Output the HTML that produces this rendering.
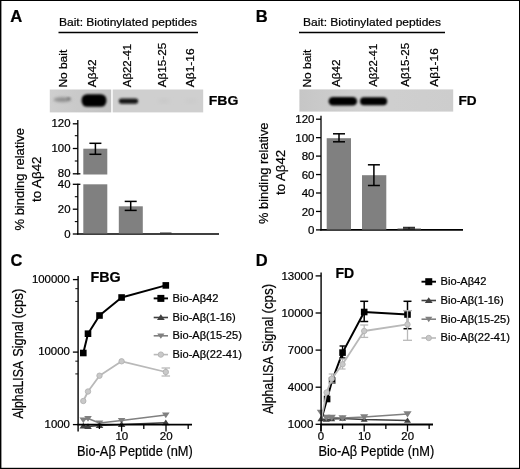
<!DOCTYPE html>
<html><head><meta charset="utf-8"><title>Figure</title>
<style>
html,body{margin:0;padding:0;background:#fff;}
svg{display:block;}
text{font-family:"Liberation Sans",sans-serif;fill:#000;stroke:#000;stroke-width:0.22px;}
.b{font-weight:bold;}
</style></head><body>
<svg width="520" height="469" viewBox="0 0 520 469">
<defs>
<filter id="bl1" x="-30%" y="-60%" width="160%" height="220%"><feGaussianBlur stdDeviation="1.2"/></filter>
<filter id="bl2" x="-30%" y="-60%" width="160%" height="220%"><feGaussianBlur stdDeviation="2"/></filter>
<filter id="bl4" x="-30%" y="-60%" width="160%" height="220%"><feGaussianBlur stdDeviation="1.0"/></filter>
<filter id="bl5" x="-30%" y="-100%" width="160%" height="300%"><feGaussianBlur stdDeviation="1.6"/></filter>
<filter id="bl3" x="-30%" y="-60%" width="160%" height="220%"><feGaussianBlur stdDeviation="0.8"/></filter>
<linearGradient id="gB" x1="0" x2="1" y1="0" y2="0"><stop offset="0" stop-color="#c6c6c6"/><stop offset="0.4" stop-color="#d0d0d0"/><stop offset="1" stop-color="#cdcdcd"/></linearGradient>
<linearGradient id="gA1" x1="0" x2="1" y1="0" y2="0"><stop offset="0" stop-color="#cfcfcf"/><stop offset="1" stop-color="#c2c2c2"/></linearGradient>
</defs>
<rect x="0" y="0" width="520" height="469" fill="#fff"/>
<rect x="0.5" y="0.5" width="519" height="468" fill="none" stroke="#000" stroke-width="1"/>
<rect x="0" y="0" width="1.4" height="469" fill="#000"/>
<rect x="0" y="467.8" width="520" height="1.2" fill="#000"/>

<text x="10.3" y="22" font-size="16.5" class="b" textLength="12" lengthAdjust="spacingAndGlyphs">A</text>
<text x="255.7" y="22" font-size="16.5" class="b">B</text>
<text x="10.5" y="265.5" font-size="16.5" class="b">C</text>
<text x="255.7" y="266" font-size="16.5" class="b">D</text>
<text x="59" y="26" font-size="11.6" textLength="138" lengthAdjust="spacingAndGlyphs">Bait: Biotinylated peptides</text>
<line x1="58.50" y1="32.50" x2="198.00" y2="32.50" stroke="#000" stroke-width="1.6" stroke-linecap="butt"/>
<rect x="49.80" y="89.50" width="61.40" height="22.90" fill="url(#gA1)"/>
<rect x="112.70" y="89.50" width="90.50" height="22.90" fill="#cfcfcf"/>
<ellipse cx="62.5" cy="99.6" rx="9" ry="2.3" fill="#8e8e8e" filter="url(#bl5)"/><ellipse cx="68.6" cy="98.6" rx="1.8" ry="1.1" fill="#707070" filter="url(#bl3)"/>
<rect x="81.6" y="94.2" width="24.8" height="12.6" rx="5.5" ry="5.5" fill="#000" filter="url(#bl4)"/>
<rect x="118.8" y="98.4" width="19.4" height="5.4" rx="2.7" ry="2.7" fill="#161616" filter="url(#bl4)"/>
<ellipse cx="164" cy="101" rx="6" ry="1.5" fill="#c4c4c4" filter="url(#bl2)"/>
<ellipse cx="191" cy="101" rx="6" ry="1.5" fill="#c8c8c8" filter="url(#bl2)"/>
<text x="67.5" y="87.6" font-size="11.6" textLength="37.8" lengthAdjust="spacingAndGlyphs" transform="rotate(-90 67.5 87.6)">No bait</text>
<text x="96.5" y="87.3" font-size="11.6" textLength="28" lengthAdjust="spacingAndGlyphs" transform="rotate(-90 96.5 87.3)">Aβ42</text>
<text x="131" y="87.2" font-size="11.6" textLength="43.3" lengthAdjust="spacingAndGlyphs" transform="rotate(-90 131 87.2)">Aβ22-41</text>
<text x="165.6" y="87.2" font-size="11.6" textLength="44.5" lengthAdjust="spacingAndGlyphs" transform="rotate(-90 165.6 87.2)">Aβ15-25</text>
<text x="193.8" y="87.2" font-size="11.6" textLength="38.8" lengthAdjust="spacingAndGlyphs" transform="rotate(-90 193.8 87.2)">Aβ1-16</text>
<text x="208.8" y="104.6" font-size="13.6" class="b" textLength="29.6" lengthAdjust="spacingAndGlyphs">FBG</text>
<line x1="77.80" y1="119.90" x2="77.80" y2="174.40" stroke="#000" stroke-width="1.3" stroke-linecap="butt"/>
<line x1="77.80" y1="183.70" x2="77.80" y2="234.60" stroke="#000" stroke-width="1.3" stroke-linecap="butt"/>
<line x1="77.15" y1="234.00" x2="219.00" y2="234.00" stroke="#000" stroke-width="1.7" stroke-linecap="butt"/>
<line x1="72.80" y1="123.80" x2="77.80" y2="123.80" stroke="#000" stroke-width="1.3" stroke-linecap="butt"/>
<text x="70.5" y="127.3" font-size="11.4" text-anchor="end">120</text>
<line x1="72.80" y1="148.50" x2="77.80" y2="148.50" stroke="#000" stroke-width="1.3" stroke-linecap="butt"/>
<text x="70.5" y="152.0" font-size="11.4" text-anchor="end">100</text>
<line x1="72.80" y1="173.80" x2="80.40" y2="173.80" stroke="#000" stroke-width="1.3" stroke-linecap="butt"/>
<text x="70.5" y="177.3" font-size="11.4" text-anchor="end">80</text>
<line x1="74.80" y1="135.70" x2="77.80" y2="135.70" stroke="#000" stroke-width="1.1" stroke-linecap="butt"/>
<line x1="74.80" y1="161.00" x2="77.80" y2="161.00" stroke="#000" stroke-width="1.1" stroke-linecap="butt"/>
<line x1="72.80" y1="184.30" x2="80.40" y2="184.30" stroke="#000" stroke-width="1.3" stroke-linecap="butt"/>
<text x="70.5" y="187.8" font-size="11.4" text-anchor="end">40</text>
<line x1="72.80" y1="209.20" x2="77.80" y2="209.20" stroke="#000" stroke-width="1.3" stroke-linecap="butt"/>
<text x="70.5" y="212.7" font-size="11.4" text-anchor="end">20</text>
<line x1="72.80" y1="234.00" x2="77.80" y2="234.00" stroke="#000" stroke-width="1.3" stroke-linecap="butt"/>
<text x="70.5" y="237.5" font-size="11.4" text-anchor="end">0</text>
<line x1="74.80" y1="196.70" x2="77.80" y2="196.70" stroke="#000" stroke-width="1.1" stroke-linecap="butt"/>
<line x1="74.80" y1="221.60" x2="77.80" y2="221.60" stroke="#000" stroke-width="1.1" stroke-linecap="butt"/>
<rect x="83.30" y="148.70" width="24.00" height="25.80" fill="#808080"/>
<rect x="83.30" y="184.30" width="24.00" height="49.10" fill="#808080"/>
<line x1="95.40" y1="143.30" x2="95.40" y2="154.30" stroke="#000" stroke-width="1.5" stroke-linecap="butt"/>
<line x1="89.40" y1="143.30" x2="101.40" y2="143.30" stroke="#000" stroke-width="1.5" stroke-linecap="butt"/>
<line x1="89.40" y1="154.30" x2="101.40" y2="154.30" stroke="#000" stroke-width="1.5" stroke-linecap="butt"/>
<rect x="118.80" y="206.30" width="24.00" height="27.10" fill="#808080"/>
<line x1="130.70" y1="201.40" x2="130.70" y2="210.40" stroke="#000" stroke-width="1.5" stroke-linecap="butt"/>
<line x1="124.70" y1="201.40" x2="136.70" y2="201.40" stroke="#000" stroke-width="1.5" stroke-linecap="butt"/>
<line x1="124.70" y1="210.40" x2="136.70" y2="210.40" stroke="#000" stroke-width="1.5" stroke-linecap="butt"/>
<rect x="160.00" y="232.50" width="11.50" height="1.10" fill="#303030"/>
<text x="23.9" y="230.5" font-size="13.6" textLength="102.5" lengthAdjust="spacingAndGlyphs" transform="rotate(-90 23.9 230.5)">% binding relative</text>
<text x="40.7" y="202" font-size="13.6" textLength="45.5" lengthAdjust="spacingAndGlyphs" transform="rotate(-90 40.7 202)">to Aβ42</text>
<text x="303" y="26" font-size="11.6" textLength="138" lengthAdjust="spacingAndGlyphs">Bait: Biotinylated peptides</text>
<line x1="299.00" y1="32.50" x2="445.00" y2="32.50" stroke="#000" stroke-width="1.6" stroke-linecap="butt"/>
<rect x="299.40" y="89.40" width="153.80" height="22.20" fill="url(#gB)"/>
<rect x="328.6" y="96.9" width="28.5" height="8.6" rx="4.3" ry="4.3" fill="#000" filter="url(#bl3)"/>
<rect x="360" y="97.3" width="27.2" height="7.9" rx="3.9" ry="3.9" fill="#000" filter="url(#bl3)"/>
<text x="311.1" y="87.6" font-size="11.6" textLength="38" lengthAdjust="spacingAndGlyphs" transform="rotate(-90 311.1 87.6)">No bait</text>
<text x="340.3" y="87" font-size="11.6" textLength="27.6" lengthAdjust="spacingAndGlyphs" transform="rotate(-90 340.3 87)">Aβ42</text>
<text x="377.3" y="86.8" font-size="11.6" textLength="43" lengthAdjust="spacingAndGlyphs" transform="rotate(-90 377.3 86.8)">Aβ22-41</text>
<text x="408.6" y="86.8" font-size="11.6" transform="rotate(-90 408.6 86.8)">Aβ15-25</text>
<text x="437.8" y="86.8" font-size="11.6" textLength="38.6" lengthAdjust="spacingAndGlyphs" transform="rotate(-90 437.8 86.8)">Aβ1-16</text>
<text x="458.5" y="104.6" font-size="13.6" class="b">FD</text>
<line x1="321.00" y1="115.80" x2="321.00" y2="230.60" stroke="#000" stroke-width="1.3" stroke-linecap="butt"/>
<line x1="320.35" y1="229.90" x2="463.00" y2="229.90" stroke="#000" stroke-width="1.7" stroke-linecap="butt"/>
<line x1="316.00" y1="229.90" x2="321.00" y2="229.90" stroke="#000" stroke-width="1.3" stroke-linecap="butt"/>
<text x="314.5" y="234.0" font-size="11.5" text-anchor="end">0</text>
<line x1="316.00" y1="211.45" x2="321.00" y2="211.45" stroke="#000" stroke-width="1.3" stroke-linecap="butt"/>
<text x="314.5" y="215.55" font-size="11.5" text-anchor="end">20</text>
<line x1="316.00" y1="193.00" x2="321.00" y2="193.00" stroke="#000" stroke-width="1.3" stroke-linecap="butt"/>
<text x="314.5" y="197.1" font-size="11.5" text-anchor="end">40</text>
<line x1="316.00" y1="174.55" x2="321.00" y2="174.55" stroke="#000" stroke-width="1.3" stroke-linecap="butt"/>
<text x="314.5" y="178.65" font-size="11.5" text-anchor="end">60</text>
<line x1="316.00" y1="156.10" x2="321.00" y2="156.10" stroke="#000" stroke-width="1.3" stroke-linecap="butt"/>
<text x="314.5" y="160.20000000000002" font-size="11.5" text-anchor="end">80</text>
<line x1="316.00" y1="137.65" x2="321.00" y2="137.65" stroke="#000" stroke-width="1.3" stroke-linecap="butt"/>
<text x="314.5" y="141.75" font-size="11.5" text-anchor="end">100</text>
<line x1="316.00" y1="119.20" x2="321.00" y2="119.20" stroke="#000" stroke-width="1.3" stroke-linecap="butt"/>
<text x="314.5" y="123.30000000000001" font-size="11.5" text-anchor="end">120</text>
<rect x="326.70" y="138.20" width="24.30" height="91.40" fill="#808080"/>
<line x1="339.00" y1="133.80" x2="339.00" y2="141.80" stroke="#000" stroke-width="1.5" stroke-linecap="butt"/>
<line x1="333.00" y1="133.80" x2="345.00" y2="133.80" stroke="#000" stroke-width="1.5" stroke-linecap="butt"/>
<line x1="333.00" y1="141.80" x2="345.00" y2="141.80" stroke="#000" stroke-width="1.5" stroke-linecap="butt"/>
<rect x="362.00" y="175.20" width="24.30" height="54.40" fill="#808080"/>
<line x1="373.90" y1="164.80" x2="373.90" y2="185.50" stroke="#000" stroke-width="1.5" stroke-linecap="butt"/>
<line x1="367.90" y1="164.80" x2="379.90" y2="164.80" stroke="#000" stroke-width="1.5" stroke-linecap="butt"/>
<line x1="367.90" y1="185.50" x2="379.90" y2="185.50" stroke="#000" stroke-width="1.5" stroke-linecap="butt"/>
<rect x="397.50" y="228.40" width="23.50" height="1.00" fill="#808080"/>
<line x1="409.00" y1="227.30" x2="409.00" y2="228.90" stroke="#000" stroke-width="1.0" stroke-linecap="butt"/>
<line x1="403.00" y1="227.30" x2="415.00" y2="227.30" stroke="#000" stroke-width="1.0" stroke-linecap="butt"/>
<line x1="403.00" y1="228.90" x2="415.00" y2="228.90" stroke="#000" stroke-width="1.0" stroke-linecap="butt"/>
<text x="267.7" y="224" font-size="13.6" textLength="101.5" lengthAdjust="spacingAndGlyphs" transform="rotate(-90 267.7 224)">% binding relative</text>
<text x="284.7" y="195" font-size="13.6" textLength="45.2" lengthAdjust="spacingAndGlyphs" transform="rotate(-90 284.7 195)">to Aβ42</text>
<polyline fill="none" stroke="#b9b9b9" stroke-width="1.8" stroke-linejoin="round" points="83.30,401.00 88.00,391.50 99.50,375.70 121.60,361.30 165.80,372.00"/>
<line x1="165.80" y1="368.00" x2="165.80" y2="376.00" stroke="#b9b9b9" stroke-width="1.3" stroke-linecap="butt"/>
<line x1="161.55" y1="368.00" x2="170.05" y2="368.00" stroke="#b9b9b9" stroke-width="1.3" stroke-linecap="butt"/>
<line x1="161.55" y1="376.00" x2="170.05" y2="376.00" stroke="#b9b9b9" stroke-width="1.3" stroke-linecap="butt"/>
<circle cx="83.30" cy="401.00" r="2.7" fill="#c9c9c9" stroke="#b2b2b2" stroke-width="0.9"/>
<circle cx="88.00" cy="391.50" r="2.7" fill="#c9c9c9" stroke="#b2b2b2" stroke-width="0.9"/>
<circle cx="99.50" cy="375.70" r="2.7" fill="#c9c9c9" stroke="#b2b2b2" stroke-width="0.9"/>
<circle cx="121.60" cy="361.30" r="2.7" fill="#c9c9c9" stroke="#b2b2b2" stroke-width="0.9"/>
<circle cx="165.80" cy="372.00" r="2.7" fill="#c9c9c9" stroke="#b2b2b2" stroke-width="0.9"/>
<polyline fill="none" stroke="#808080" stroke-width="1.5" stroke-linejoin="round" points="83.30,420.00 88.00,418.50 99.50,423.00 121.60,420.40 165.80,415.00"/>
<polygon points="83.30,423.23 79.50,417.53 87.10,417.53" fill="#808080"/>
<polygon points="88.00,421.73 84.20,416.03 91.80,416.03" fill="#808080"/>
<polygon points="99.50,426.23 95.70,420.53 103.30,420.53" fill="#808080"/>
<polygon points="121.60,423.63 117.80,417.93 125.40,417.93" fill="#808080"/>
<polygon points="165.80,418.23 162.00,412.53 169.60,412.53" fill="#808080"/>
<polyline fill="none" stroke="#404040" stroke-width="1.5" stroke-linejoin="round" points="83.30,426.00 88.00,426.50 99.50,425.50 121.60,424.50 165.80,422.70"/>
<polygon points="83.30,422.77 79.50,428.47 87.10,428.47" fill="#404040"/>
<polygon points="88.00,423.27 84.20,428.97 91.80,428.97" fill="#404040"/>
<polygon points="99.50,422.27 95.70,427.97 103.30,427.97" fill="#404040"/>
<polygon points="121.60,421.27 117.80,426.97 125.40,426.97" fill="#404040"/>
<polygon points="165.80,419.47 162.00,425.17 169.60,425.17" fill="#404040"/>
<polyline fill="none" stroke="#000" stroke-width="2" stroke-linejoin="round" points="83.30,353.00 88.00,333.70 99.50,315.50 121.60,297.50 165.80,285.40"/>
<rect x="80.00" y="349.70" width="6.60" height="6.60" fill="#000"/>
<rect x="84.70" y="330.40" width="6.60" height="6.60" fill="#000"/>
<rect x="96.20" y="312.20" width="6.60" height="6.60" fill="#000"/>
<rect x="118.30" y="294.20" width="6.60" height="6.60" fill="#000"/>
<rect x="162.50" y="282.10" width="6.60" height="6.60" fill="#000"/>
<line x1="78.10" y1="276.00" x2="78.10" y2="431.50" stroke="#000" stroke-width="1.4" stroke-linecap="butt"/>
<line x1="77.40" y1="424.60" x2="192.00" y2="424.60" stroke="#000" stroke-width="1.8" stroke-linecap="butt"/>
<line x1="72.90" y1="279.60" x2="78.10" y2="279.60" stroke="#000" stroke-width="1.3" stroke-linecap="butt"/>
<text x="69.9" y="282.90000000000003" font-size="11.4" text-anchor="end">100000</text>
<line x1="72.90" y1="352.10" x2="78.10" y2="352.10" stroke="#000" stroke-width="1.3" stroke-linecap="butt"/>
<text x="69.9" y="355.40000000000003" font-size="11.4" text-anchor="end">10000</text>
<line x1="72.90" y1="424.60" x2="78.10" y2="424.60" stroke="#000" stroke-width="1.3" stroke-linecap="butt"/>
<text x="69.9" y="427.90000000000003" font-size="11.4" text-anchor="end">1000</text>
<line x1="75.30" y1="288.66" x2="78.10" y2="288.66" stroke="#111" stroke-width="1.0" stroke-linecap="butt"/>
<line x1="75.30" y1="301.42" x2="78.10" y2="301.42" stroke="#111" stroke-width="1.0" stroke-linecap="butt"/>
<line x1="75.30" y1="361.16" x2="78.10" y2="361.16" stroke="#111" stroke-width="1.0" stroke-linecap="butt"/>
<line x1="75.30" y1="373.92" x2="78.10" y2="373.92" stroke="#111" stroke-width="1.0" stroke-linecap="butt"/>
<line x1="99.40" y1="424.60" x2="99.40" y2="429.00" stroke="#000" stroke-width="1.3" stroke-linecap="butt"/>
<line x1="121.60" y1="424.60" x2="121.60" y2="431.50" stroke="#000" stroke-width="1.3" stroke-linecap="butt"/>
<line x1="143.80" y1="424.60" x2="143.80" y2="429.00" stroke="#000" stroke-width="1.3" stroke-linecap="butt"/>
<line x1="166.00" y1="424.60" x2="166.00" y2="431.50" stroke="#000" stroke-width="1.3" stroke-linecap="butt"/>
<line x1="188.20" y1="424.60" x2="188.20" y2="429.00" stroke="#000" stroke-width="1.3" stroke-linecap="butt"/>
<text x="121.8" y="440.2" font-size="11.5" text-anchor="middle">10</text>
<text x="166.2" y="440.2" font-size="11.5" text-anchor="middle">20</text>
<text x="77" y="456" font-size="15.3" textLength="115.8" lengthAdjust="spacingAndGlyphs">Bio-Aβ Peptide (nM)</text>
<text x="22.8" y="418.8" font-size="13.9" textLength="57.8" lengthAdjust="spacingAndGlyphs" transform="rotate(-90 22.8 418.8)">AlphaLISA</text>
<text x="22.8" y="356.7" font-size="13.9" textLength="35.4" lengthAdjust="spacingAndGlyphs" transform="rotate(-90 22.8 356.7)">Signal</text>
<text x="22.8" y="318.20000000000005" font-size="13.9" textLength="29.6" lengthAdjust="spacingAndGlyphs" transform="rotate(-90 22.8 318.20000000000005)">(cps)</text>
<text x="90.5" y="282" font-size="14.3" class="b">FBG</text>
<line x1="153.70" y1="298.40" x2="168.00" y2="298.40" stroke="#000" stroke-width="1.9" stroke-linecap="butt"/>
<rect x="157.35" y="294.90" width="7.00" height="7.00" fill="#000"/>
<text x="172.6" y="301.79999999999995" font-size="11.1">Bio-Aβ42</text>
<line x1="153.70" y1="317.50" x2="168.00" y2="317.50" stroke="#404040" stroke-width="1.6" stroke-linecap="butt"/>
<polygon points="160.85,314.19 156.95,320.04 164.75,320.04" fill="#404040"/>
<text x="172.6" y="320.9" font-size="11.1">Bio-Aβ(1-16)</text>
<line x1="153.70" y1="335.80" x2="168.00" y2="335.80" stroke="#808080" stroke-width="1.6" stroke-linecap="butt"/>
<polygon points="160.85,338.86 157.25,333.46 164.45,333.46" fill="#808080"/>
<text x="172.6" y="339.2" font-size="11.1">Bio-Aβ(15-25)</text>
<line x1="153.70" y1="354.60" x2="168.00" y2="354.60" stroke="#b9b9b9" stroke-width="1.6" stroke-linecap="butt"/>
<circle cx="160.85" cy="354.60" r="2.7" fill="#c9c9c9" stroke="#b2b2b2" stroke-width="0.9"/>
<text x="172.6" y="358.0" font-size="11.1">Bio-Aβ(22-41)</text>
<polyline fill="none" stroke="#404040" stroke-width="1.5" stroke-linejoin="round" points="320.90,419.00 326.31,419.50 331.72,419.00 342.55,418.50 364.20,419.50 407.50,420.50"/>
<polygon points="320.90,416.02 317.40,421.27 324.40,421.27" fill="#404040"/>
<polygon points="326.31,416.52 322.81,421.77 329.81,421.77" fill="#404040"/>
<polygon points="331.72,416.02 328.22,421.27 335.22,421.27" fill="#404040"/>
<polygon points="342.55,415.52 339.05,420.77 346.05,420.77" fill="#404040"/>
<polygon points="364.20,416.52 360.70,421.77 367.70,421.77" fill="#404040"/>
<polygon points="407.50,417.52 404.00,422.77 411.00,422.77" fill="#404040"/>
<polyline fill="none" stroke="#808080" stroke-width="1.6" stroke-linejoin="round" points="320.90,412.30 326.31,417.50 331.72,417.50 342.55,418.00 364.20,417.00 407.50,414.00"/>
<polygon points="320.90,415.79 316.80,409.63 325.00,409.63" fill="#808080"/>
<polygon points="326.31,420.99 322.21,414.83 330.41,414.83" fill="#808080"/>
<polygon points="331.72,420.99 327.62,414.83 335.82,414.83" fill="#808080"/>
<polygon points="342.55,421.49 338.45,415.33 346.65,415.33" fill="#808080"/>
<polygon points="364.20,420.49 360.10,414.33 368.30,414.33" fill="#808080"/>
<polygon points="407.50,417.49 403.40,411.33 411.60,411.33" fill="#808080"/>
<polyline fill="none" stroke="#000" stroke-width="2" stroke-linejoin="round" points="321.10,420.30 327.10,399.00 332.12,380.50 342.55,352.60 364.20,312.00 407.50,314.50"/>
<line x1="342.55" y1="346.00" x2="342.55" y2="358.00" stroke="#000" stroke-width="1.4" stroke-linecap="butt"/>
<line x1="339.55" y1="346.00" x2="345.55" y2="346.00" stroke="#000" stroke-width="1.4" stroke-linecap="butt"/>
<line x1="339.55" y1="358.00" x2="345.55" y2="358.00" stroke="#000" stroke-width="1.4" stroke-linecap="butt"/>
<line x1="364.20" y1="301.30" x2="364.20" y2="321.50" stroke="#000" stroke-width="1.5" stroke-linecap="butt"/>
<line x1="360.20" y1="301.30" x2="368.20" y2="301.30" stroke="#000" stroke-width="1.5" stroke-linecap="butt"/>
<line x1="360.20" y1="321.50" x2="368.20" y2="321.50" stroke="#000" stroke-width="1.5" stroke-linecap="butt"/>
<line x1="407.50" y1="301.30" x2="407.50" y2="328.70" stroke="#000" stroke-width="1.5" stroke-linecap="butt"/>
<line x1="403.50" y1="301.30" x2="411.50" y2="301.30" stroke="#000" stroke-width="1.5" stroke-linecap="butt"/>
<line x1="403.50" y1="328.70" x2="411.50" y2="328.70" stroke="#000" stroke-width="1.5" stroke-linecap="butt"/>
<rect x="323.80" y="395.70" width="6.60" height="6.60" fill="#000"/>
<rect x="328.82" y="377.20" width="6.60" height="6.60" fill="#000"/>
<rect x="339.25" y="349.30" width="6.60" height="6.60" fill="#000"/>
<rect x="360.90" y="308.70" width="6.60" height="6.60" fill="#000"/>
<rect x="404.20" y="311.20" width="6.60" height="6.60" fill="#000"/>
<polyline fill="none" stroke="#b9b9b9" stroke-width="1.8" stroke-linejoin="round" points="321.10,420.30 326.61,392.50 331.72,378.70 342.55,364.30 364.20,331.00 407.50,324.40"/>
<line x1="331.72" y1="374.00" x2="331.72" y2="383.00" stroke="#b9b9b9" stroke-width="1.2" stroke-linecap="butt"/>
<line x1="328.72" y1="374.00" x2="334.72" y2="374.00" stroke="#b9b9b9" stroke-width="1.2" stroke-linecap="butt"/>
<line x1="328.72" y1="383.00" x2="334.72" y2="383.00" stroke="#b9b9b9" stroke-width="1.2" stroke-linecap="butt"/>
<line x1="342.55" y1="359.00" x2="342.55" y2="369.00" stroke="#b9b9b9" stroke-width="1.2" stroke-linecap="butt"/>
<line x1="339.55" y1="359.00" x2="345.55" y2="359.00" stroke="#b9b9b9" stroke-width="1.2" stroke-linecap="butt"/>
<line x1="339.55" y1="369.00" x2="345.55" y2="369.00" stroke="#b9b9b9" stroke-width="1.2" stroke-linecap="butt"/>
<line x1="364.20" y1="325.00" x2="364.20" y2="337.40" stroke="#b9b9b9" stroke-width="1.3" stroke-linecap="butt"/>
<line x1="360.20" y1="325.00" x2="368.20" y2="325.00" stroke="#b9b9b9" stroke-width="1.3" stroke-linecap="butt"/>
<line x1="360.20" y1="337.40" x2="368.20" y2="337.40" stroke="#b9b9b9" stroke-width="1.3" stroke-linecap="butt"/>
<line x1="407.50" y1="310.60" x2="407.50" y2="340.30" stroke="#b9b9b9" stroke-width="1.3" stroke-linecap="butt"/>
<line x1="403.00" y1="310.60" x2="412.00" y2="310.60" stroke="#b9b9b9" stroke-width="1.3" stroke-linecap="butt"/>
<line x1="403.00" y1="340.30" x2="412.00" y2="340.30" stroke="#b9b9b9" stroke-width="1.3" stroke-linecap="butt"/>
<circle cx="326.61" cy="392.50" r="2.7" fill="#c9c9c9" stroke="#b2b2b2" stroke-width="0.9"/>
<circle cx="331.72" cy="378.70" r="2.7" fill="#c9c9c9" stroke="#b2b2b2" stroke-width="0.9"/>
<circle cx="342.55" cy="364.30" r="2.7" fill="#c9c9c9" stroke="#b2b2b2" stroke-width="0.9"/>
<circle cx="364.20" cy="331.00" r="2.7" fill="#c9c9c9" stroke="#b2b2b2" stroke-width="0.9"/>
<circle cx="407.50" cy="324.40" r="2.7" fill="#c9c9c9" stroke="#b2b2b2" stroke-width="0.9"/>
<line x1="321.10" y1="272.50" x2="321.10" y2="431.50" stroke="#000" stroke-width="1.4" stroke-linecap="butt"/>
<line x1="320.40" y1="424.50" x2="433.00" y2="424.50" stroke="#000" stroke-width="1.8" stroke-linecap="butt"/>
<line x1="315.60" y1="424.30" x2="321.10" y2="424.30" stroke="#000" stroke-width="1.3" stroke-linecap="butt"/>
<text x="313.4" y="428.2" font-size="11.5" text-anchor="end">1000</text>
<line x1="315.60" y1="387.20" x2="321.10" y2="387.20" stroke="#000" stroke-width="1.3" stroke-linecap="butt"/>
<text x="313.4" y="391.09999999999997" font-size="11.5" text-anchor="end">4000</text>
<line x1="315.60" y1="350.10" x2="321.10" y2="350.10" stroke="#000" stroke-width="1.3" stroke-linecap="butt"/>
<text x="313.4" y="354.0" font-size="11.5" text-anchor="end">7000</text>
<line x1="315.60" y1="313.00" x2="321.10" y2="313.00" stroke="#000" stroke-width="1.3" stroke-linecap="butt"/>
<text x="313.4" y="316.9" font-size="11.5" text-anchor="end">10000</text>
<line x1="315.60" y1="275.90" x2="321.10" y2="275.90" stroke="#000" stroke-width="1.3" stroke-linecap="butt"/>
<text x="313.4" y="279.79999999999995" font-size="11.5" text-anchor="end">13000</text>
<line x1="320.90" y1="424.30" x2="320.90" y2="431.50" stroke="#000" stroke-width="1.3" stroke-linecap="butt"/>
<line x1="342.55" y1="424.30" x2="342.55" y2="429.00" stroke="#000" stroke-width="1.3" stroke-linecap="butt"/>
<line x1="364.20" y1="424.30" x2="364.20" y2="431.50" stroke="#000" stroke-width="1.3" stroke-linecap="butt"/>
<line x1="385.85" y1="424.30" x2="385.85" y2="429.00" stroke="#000" stroke-width="1.3" stroke-linecap="butt"/>
<line x1="407.50" y1="424.30" x2="407.50" y2="431.50" stroke="#000" stroke-width="1.3" stroke-linecap="butt"/>
<line x1="429.15" y1="424.30" x2="429.15" y2="429.00" stroke="#000" stroke-width="1.3" stroke-linecap="butt"/>
<text x="321" y="440.3" font-size="11.4" text-anchor="middle">0</text>
<text x="364.4" y="440.3" font-size="11.4" text-anchor="middle">10</text>
<text x="407.7" y="440.3" font-size="11.4" text-anchor="middle">20</text>
<text x="318.4" y="456" font-size="15.3" textLength="115.8" lengthAdjust="spacingAndGlyphs">Bio-Aβ Peptide (nM)</text>
<text x="272.7" y="414.1" font-size="13.9" textLength="57.8" lengthAdjust="spacingAndGlyphs" transform="rotate(-90 272.7 414.1)">AlphaLISA</text>
<text x="272.7" y="352.0" font-size="13.9" textLength="35.4" lengthAdjust="spacingAndGlyphs" transform="rotate(-90 272.7 352.0)">Signal</text>
<text x="272.7" y="313.5" font-size="13.9" textLength="29.6" lengthAdjust="spacingAndGlyphs" transform="rotate(-90 272.7 313.5)">(cps)</text>
<text x="335.5" y="278" font-size="14" class="b">FD</text>
<line x1="421.50" y1="281.70" x2="436.00" y2="281.70" stroke="#000" stroke-width="1.9" stroke-linecap="butt"/>
<rect x="425.25" y="278.20" width="7.00" height="7.00" fill="#000"/>
<text x="440.6" y="285.09999999999997" font-size="11.1">Bio-Aβ42</text>
<line x1="421.50" y1="300.50" x2="436.00" y2="300.50" stroke="#404040" stroke-width="1.6" stroke-linecap="butt"/>
<polygon points="428.75,297.19 424.85,303.04 432.65,303.04" fill="#404040"/>
<text x="440.6" y="303.9" font-size="11.1">Bio-Aβ(1-16)</text>
<line x1="421.50" y1="319.20" x2="436.00" y2="319.20" stroke="#808080" stroke-width="1.6" stroke-linecap="butt"/>
<polygon points="428.75,322.26 425.15,316.86 432.35,316.86" fill="#808080"/>
<text x="440.6" y="322.59999999999997" font-size="11.1">Bio-Aβ(15-25)</text>
<line x1="421.50" y1="338.00" x2="436.00" y2="338.00" stroke="#b9b9b9" stroke-width="1.6" stroke-linecap="butt"/>
<circle cx="428.75" cy="338.00" r="2.7" fill="#c9c9c9" stroke="#b2b2b2" stroke-width="0.9"/>
<text x="440.6" y="341.4" font-size="11.1">Bio-Aβ(22-41)</text>
</svg></body></html>
